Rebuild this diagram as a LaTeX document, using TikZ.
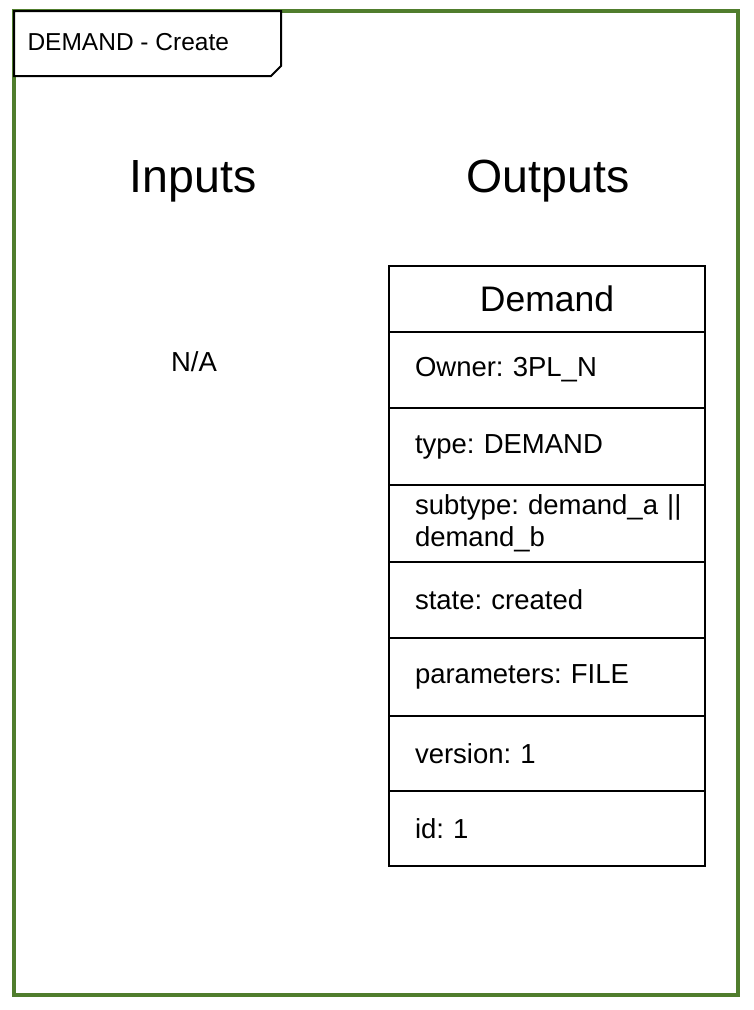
\documentclass[tikz,border=0pt]{standalone}
\usepackage{fontspec}
\setmainfont{Liberation Sans}
\usepackage{xcolor}
\usetikzlibrary{positioning}
\definecolor{framegreen}{RGB}{80,125,45}
\tikzstyle{frame} = [draw=framegreen, line width=4pt]
\tikzstyle{tab} = [draw=black, line width=2pt, fill=white]
\tikzstyle{title} = [font=\fontsize{46.5}{56}\selectfont]
\tikzstyle{plain} = [font=\fontsize{27.5}{32}\selectfont]
\tikzstyle{classhead} = [rectangle, draw=black, line width=2pt, minimum width=316pt, minimum height=66pt, outer sep=0pt, font=\fontsize{35.5}{42}\selectfont]
\tikzstyle{field} = [rectangle, draw=black, line width=2pt, text width=264pt, inner xsep=26pt, align=left, outer sep=0pt, font=\fontsize{27.5}{32}\selectfont]

\begin{document}
\frenchspacing
\begin{tikzpicture}[x=1pt, y=-1pt]
		\useasboundingbox (0,0) rectangle (753,1010);
		
		% outer frame and tab
		\draw [frame] (14,11) rectangle (738,995);
		\draw [tab] (14,11) -- (281,11) -- (281,66) -- (271,76) -- (14,76) -- cycle;
		\node (TabLabel) [anchor=west, font=\fontsize{24.5}{29}\selectfont] at (24,42) {DEMAND - Create};
		
		% columns
		\node (Inputs) [title] at (193,181) {Inputs};
		\node (Outputs) [title] at (548,181) {Outputs};
		\node (NA) [plain] at (194,362) {N/A};
		
		% class box
		\node (Demand) [classhead] at (547,299) {Demand};
		\node (Owner) [field, minimum height=76pt, below=0pt of Demand] {Owner: 3PL\_N};
		\node (Type) [field, minimum height=77pt, below=0pt of Owner] {type: DEMAND};
		\node (Subtype) [field, minimum height=77pt, below=0pt of Type] {\mbox{subtype: demand\_a ||}\\demand\_b};
		\node (State) [field, minimum height=76pt, below=0pt of Subtype] {state: created};
		\node (Params) [field, minimum height=78pt, below=0pt of State] {parameters: FILE};
		\node (Version) [field, minimum height=75pt, below=0pt of Params] {version: 1};
		\node (Id) [field, minimum height=75pt, below=0pt of Version] {id: 1};
	\end{tikzpicture}
\end{document}
